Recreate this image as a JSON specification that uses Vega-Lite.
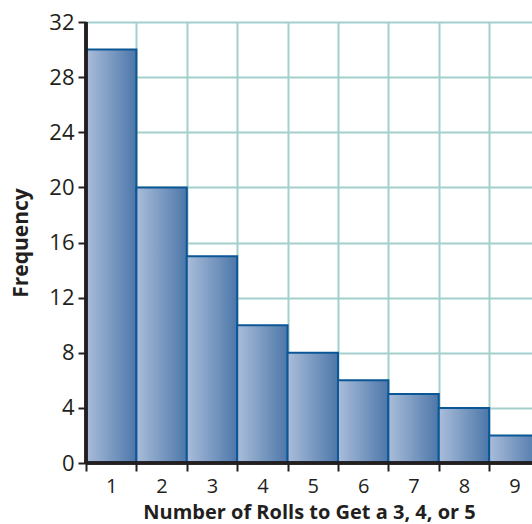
{
  "$schema": "https://vega.github.io/schema/vega-lite/v6.json",
  "width": 446,
  "height": 441,
  "autosize": {"type": "none"},
  "padding": {"left": 86, "top": 22, "right": 0, "bottom": 61},
  "background": "white",
  "config": {"view": {"stroke": null}, "font": "Open Sans"},
  "data": {"values": [
    {"rolls": 1, "lo": 0.5, "hi": 1.5, "freq": 30},
    {"rolls": 2, "lo": 1.5, "hi": 2.5, "freq": 20},
    {"rolls": 3, "lo": 2.5, "hi": 3.5, "freq": 15},
    {"rolls": 4, "lo": 3.5, "hi": 4.5, "freq": 10},
    {"rolls": 5, "lo": 4.5, "hi": 5.5, "freq": 8},
    {"rolls": 6, "lo": 5.5, "hi": 6.5, "freq": 6},
    {"rolls": 7, "lo": 6.5, "hi": 7.5, "freq": 5},
    {"rolls": 8, "lo": 7.5, "hi": 8.5, "freq": 4},
    {"rolls": 9, "lo": 8.5, "hi": 9.5, "freq": 2}
  ]},
  "layer": [
    {
      "mark": {
        "type": "bar",
        "clip": true,
        "stroke": "#0b5796",
        "strokeWidth": 2,
        "color": {
          "x1": 0, "y1": 0, "x2": 1, "y2": 0,
          "gradient": "linear",
          "stops": [
            {"offset": 0, "color": "#aabdda"},
            {"offset": 1, "color": "#4c77a9"}
          ]
        }
      },
      "encoding": {
        "x": {
          "field": "lo", "type": "quantitative",
          "scale": {"domain": [0.5, 9.35], "nice": false, "zero": false},
          "axis": {
            "values": [1, 2, 3, 4, 5, 6, 7, 8, 9],
            "tickOffset": -25.2,
            "labelOffset": 25.2,
            "domain": false,
            "tickColor": "#231f20", "tickWidth": 2, "tickSize": 8,
            "gridColor": "#a3cfcc", "gridWidth": 2, "gridOpacity": 1,
            "labelFont": "Open Sans", "labelFontSize": 20, "labelColor": "#231f20",
            "labelPadding": 5, "labelFlush": false, "labelOverlap": false,
            "title": "Number of Rolls to Get a 3, 4, or 5",
            "titleFont": "Open Sans", "titleFontSize": 20, "titleFontWeight": "bold",
            "titleColor": "#231f20", "titlePadding": 6
          }
        },
        "x2": {"field": "hi"},
        "y": {
          "field": "freq", "type": "quantitative",
          "scale": {"domain": [0, 32], "nice": false},
          "axis": {
            "values": [0, 2, 4, 6, 8, 10, 12, 14, 16, 18, 20, 22, 24, 26, 28, 30, 32],
            "labelExpr": "datum.value % 4 === 0 ? datum.label : ''",
            "domain": false,
            "tickColor": "#231f20", "tickWidth": 2, "tickSize": 8,
            "gridColor": "#a3cfcc", "gridWidth": 2, "gridOpacity": 1,
            "labelFont": "Open Sans", "labelFontSize": 22, "labelColor": "#231f20",
            "labelPadding": 4, "labelFlush": false, "labelOverlap": false,
            "title": "Frequency",
            "titleFont": "Open Sans", "titleFontSize": 21, "titleFontWeight": "bold",
            "titleColor": "#231f20", "titlePadding": 17
          }
        },
        "y2": {"datum": 0}
      }
    },
    {
      "mark": {"type": "rule", "color": "#231f20", "strokeWidth": 2.5},
      "encoding": {"y": {"datum": 0, "type": "quantitative"}}
    },
    {
      "mark": {"type": "rule", "color": "#231f20", "strokeWidth": 2.5},
      "encoding": {"x": {"datum": 0.5, "type": "quantitative"}}
    }
  ]
}
